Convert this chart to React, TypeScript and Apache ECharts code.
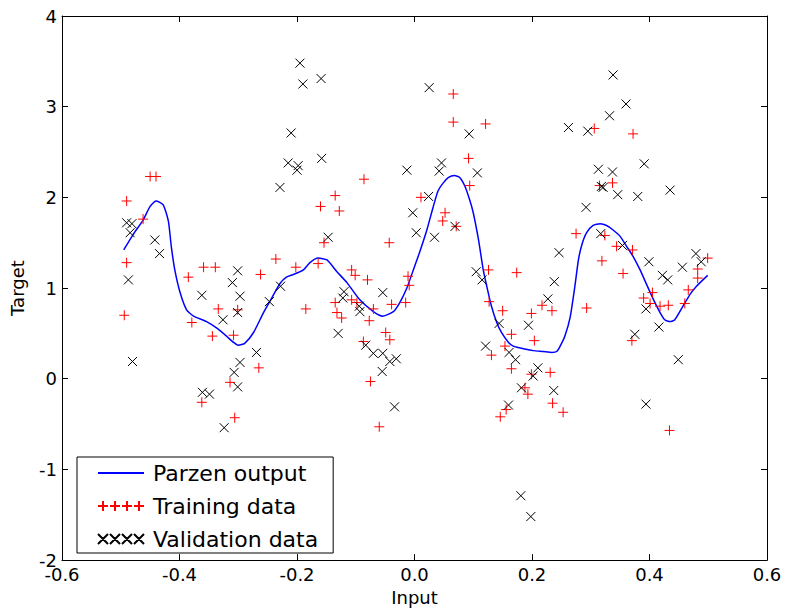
import React, { useEffect, useRef } from "react";
import * as echarts from "echarts";

const parzenX = [-0.495, -0.479, -0.462, -0.45, -0.44, -0.428, -0.419, -0.414, -0.408, -0.399, -0.388, -0.376, -0.354, -0.337, -0.32, -0.308, -0.3, -0.289, -0.274, -0.257, -0.243, -0.229, -0.218, -0.206, -0.189, -0.178, -0.164, -0.149, -0.132, -0.115, -0.093, -0.07, -0.054, -0.036, -0.025, -0.013, -0.002, 0.009, 0.021, 0.032, 0.04, 0.049, 0.058, 0.068, 0.077, 0.086, 0.094, 0.1, 0.109, 0.117, 0.123, 0.131, 0.14, 0.148, 0.16, 0.168, 0.18, 0.202, 0.219, 0.234, 0.242, 0.248, 0.256, 0.265, 0.273, 0.279, 0.285, 0.293, 0.304, 0.316, 0.327, 0.338, 0.35, 0.361, 0.372, 0.384, 0.395, 0.407, 0.418, 0.426, 0.435, 0.443, 0.457, 0.469, 0.48, 0.499];
const parzenY = [1.42, 1.59, 1.75, 1.9, 1.96, 1.92, 1.74, 1.46, 1.2, 0.95, 0.76, 0.69, 0.63, 0.56, 0.47, 0.4, 0.37, 0.39, 0.51, 0.73, 0.89, 1.05, 1.12, 1.15, 1.2, 1.28, 1.33, 1.31, 1.18, 1.06, 0.87, 0.74, 0.69, 0.74, 0.84, 1.0, 1.2, 1.4, 1.64, 1.9, 2.07, 2.16, 2.22, 2.24, 2.22, 2.12, 1.97, 1.83, 1.53, 1.2, 1.02, 0.8, 0.62, 0.51, 0.4, 0.36, 0.34, 0.31, 0.3, 0.29, 0.3, 0.36, 0.47, 0.68, 1.02, 1.31, 1.48, 1.61, 1.69, 1.71, 1.69, 1.64, 1.57, 1.46, 1.35, 1.2, 1.04, 0.87, 0.73, 0.65, 0.63, 0.65, 0.8, 0.93, 1.02, 1.14];

const trainX = [-0.45, -0.44, -0.49, -0.462, -0.49, -0.494, -0.236, -0.385, -0.359, -0.339, -0.262, -0.334, -0.301, -0.379, -0.344, -0.308, -0.265, -0.314, -0.362, -0.306,
  -0.086, -0.135, -0.16, -0.128, 0.011, -0.154, -0.043, -0.202, -0.164, -0.107, -0.101, -0.08, -0.011, -0.009, -0.185, -0.135, -0.132, -0.124, -0.107, -0.098, -0.07, -0.077, -0.039, -0.015, -0.049, -0.042, -0.087, -0.075, -0.06,
  0.066, 0.066, 0.121, 0.092, 0.094, 0.052, 0.048, 0.071, 0.275, 0.126, 0.174, 0.127, 0.15, 0.199, 0.217, 0.234, 0.165, 0.204, 0.154, 0.131, 0.165, 0.199, 0.231, 0.188, 0.193, 0.235, 0.253, 0.156, 0.146,
  0.306, 0.372, 0.315, 0.337, 0.324, 0.344, 0.371, 0.319, 0.355, 0.499, 0.482, 0.482, 0.466, 0.46, 0.39, 0.405, 0.401, 0.418, 0.432, 0.37, 0.293, 0.434];
const trainY = [2.23, 2.23, 1.96, 1.76, 1.28, 0.7, 1.32, 1.12, 1.23, 1.23, 1.15, 0.77, 0.76, 0.62, 0.47, 0.48, 0.12, -0.04, -0.26, -0.43,
  2.2, 2.02, 1.9, 1.85, 2.0, 1.5, 1.5, 1.23, 1.27, 1.2, 1.14, 1.09, 1.13, 1.03, 0.77, 0.84, 0.73, 0.67, 0.87, 0.84, 0.77, 0.64, 0.82, 0.84, 0.51, 0.43, 0.41, -0.03, -0.53,
  3.14, 2.83, 2.81, 2.43, 2.13, 1.83, 1.74, 1.68, 1.6, 1.2, 1.17, 0.85, 0.75, 0.72, 0.81, 0.75, 0.49, 0.42, 0.36, 0.26, 0.11, 0.05, 0.07, -0.1, -0.17, -0.27, -0.37, -0.34, -0.42,
  2.76, 2.7, 2.13, 2.16, 1.58, 1.46, 1.42, 1.3, 1.16, 1.33, 1.21, 1.11, 0.98, 0.83, 0.89, 0.95, 0.83, 0.8, 0.81, 0.42, 0.78, -0.57];

const validX = [-0.229, -0.49, -0.481, -0.484, -0.442, -0.434, -0.487, -0.48, -0.301, -0.31, -0.297, -0.362, -0.326, -0.301, -0.247, -0.269, -0.297, -0.307, -0.301, -0.361, -0.349, -0.324,
  -0.195, -0.19, -0.159, -0.21, -0.215, -0.198, -0.2, -0.158, 0.025, -0.013, 0.024, -0.003, 0.003, 0.034, -0.147, -0.228, -0.12, -0.122, -0.094, -0.093, -0.054, -0.13, -0.083, -0.07, -0.054, -0.042, -0.031, -0.055, -0.034,
  0.093, 0.262, 0.046, 0.042, 0.107, 0.069, 0.246, 0.105, 0.115, 0.238, 0.227, 0.144, 0.194, 0.121, 0.161, 0.172, 0.21, 0.202, 0.182, 0.237, 0.16, 0.181, 0.198,
  0.338, 0.36, 0.332, 0.295, 0.391, 0.313, 0.337, 0.318, 0.321, 0.346, 0.38, 0.435, 0.292, 0.317, 0.354, 0.399, 0.479, 0.488, 0.456, 0.422, 0.431, 0.394, 0.416, 0.375, 0.449, 0.394];
const validY = [2.11, 1.72, 1.71, 1.61, 1.53, 1.38, 1.09, 0.19, 1.19, 1.06, 0.91, 0.92, 0.65, 0.73, 0.85, 0.29, 0.18, 0.07, -0.09, -0.15, -0.17, -0.54,
  3.48, 3.25, 3.31, 2.71, 2.38, 2.35, 2.3, 2.43, 3.21, 2.3, 2.01, 1.83, 1.61, 1.56, 1.56, 1.02, 0.96, 0.89, 0.8, 0.74, 0.95, 0.5, 0.37, 0.28, 0.28, 0.19, 0.22, 0.08, -0.31,
  2.7, 2.77, 2.38, 2.29, 2.27, 1.68, 1.39, 1.18, 1.09, 1.07, 0.88, 0.61, 0.59, 0.36, 0.29, 0.21, 0.12, 0.03, -0.1, -0.13, -0.29, -1.29, -1.52,
  3.35, 3.03, 2.9, 2.73, 2.37, 2.31, 2.28, 2.12, 2.11, 2.03, 2.01, 2.08, 1.89, 1.6, 1.47, 1.29, 1.38, 1.29, 1.23, 1.14, 1.09, 0.77, 0.57, 0.49, 0.21, -0.28];

const FONT = "DejaVu Sans";
const PLUS = "path://M0,-5L0,5M-5,0L5,0";
const CROSS = "path://M-5,-5L5,5M-5,5L5,-5";
const LINE_ICON = "path://M0,0L36,0L36,1.6L0,1.6Z";
const PLUS4 = "path://M0,5L10,5M5,0L5,10M12,5L22,5M17,0L17,10M24,5L34,5M29,0L29,10M36,5L46,5M41,0L41,10";
const CROSS4 = "path://M0,0L10,10M0,10L10,0M12,0L22,10M12,10L22,0M24,0L34,10M24,10L34,0M36,0L46,10M36,10L46,0";

export default function App() {
  const ref = useRef<HTMLDivElement>(null);
  useEffect(() => {
    document.body.style.margin = "0";
    const chart = echarts.init(ref.current!, null, { renderer: "svg" });
    const zip = (xs: number[], ys: number[]) => xs.map((x, i) => [x, ys[i]]);
    const tickCommon = { inside: true, length: 6, lineStyle: { color: "#000", width: 1 } };
    const lineCommon = { show: true, onZero: false, lineStyle: { color: "#000", width: 1 } };
    chart.setOption({
      animation: false,
      backgroundColor: "#fff",
      textStyle: { fontFamily: FONT },
      grid: { left: 62, top: 16, right: 19, bottom: 50, containLabel: false },
      legend: {
        orient: "vertical",
        left: 77,
        top: 457,
        padding: [5, 15, 3, 20],
        borderColor: "#000",
        borderWidth: 1,
        itemGap: 11,
        itemWidth: 46,
        itemHeight: 10,
        textStyle: { fontSize: 22, fontFamily: FONT, color: "#000", padding: [0, 0, 0, 4] },
        data: [
          { name: "Parzen output", icon: LINE_ICON },
          { name: "Training data", icon: PLUS4 },
          { name: "Validation data", icon: CROSS4 },
        ],
      },
      xAxis: [
        {
          type: "value",
          min: -0.6,
          max: 0.6,
          interval: 0.2,
          name: "Input",
          nameLocation: "middle",
          nameGap: 27,
          nameTextStyle: { fontSize: 18, fontFamily: FONT, color: "#000" },
          axisLine: lineCommon,
          axisTick: tickCommon,
          splitLine: { show: false },
          axisLabel: {
            fontSize: 18,
            fontFamily: FONT,
            color: "#000",
            margin: 5,
            formatter: (v: number) => (Math.abs(v) < 1e-9 ? "0.0" : v.toFixed(1)),
          },
        },
        {
          type: "value",
          position: "top",
          min: -0.6,
          max: 0.6,
          interval: 0.2,
          axisLine: lineCommon,
          axisTick: tickCommon,
          axisLabel: { show: false },
          splitLine: { show: false },
        },
      ],
      yAxis: [
        {
          type: "value",
          min: -2,
          max: 4,
          interval: 1,
          name: "Target",
          nameLocation: "middle",
          nameGap: 36,
          nameTextStyle: { fontSize: 18, fontFamily: FONT, color: "#000" },
          axisLine: lineCommon,
          axisTick: tickCommon,
          splitLine: { show: false },
          axisLabel: { fontSize: 18, fontFamily: FONT, color: "#000", margin: 5 },
        },
        {
          type: "value",
          position: "right",
          min: -2,
          max: 4,
          interval: 1,
          axisLine: lineCommon,
          axisTick: tickCommon,
          axisLabel: { show: false },
          splitLine: { show: false },
        },
      ],
      series: [
        {
          name: "Parzen output",
          type: "line",
          data: zip(parzenX, parzenY),
          symbol: "none",
          smooth: 0.2,
          lineStyle: { color: "#0000ff", width: 1.5 },
          itemStyle: { color: "#0000ff" },
          z: 2,
        },
        {
          name: "Training data",
          type: "scatter",
          data: zip(trainX, trainY),
          symbol: PLUS,
          symbolSize: 10,
          itemStyle: { color: "#ff0000", borderColor: "#ff0000", borderWidth: 1, opacity: 1 },
          z: 3,
        },
        {
          name: "Validation data",
          type: "scatter",
          data: zip(validX, validY),
          symbol: CROSS,
          symbolSize: 9,
          itemStyle: { color: "#000", borderColor: "#000", borderWidth: 1, opacity: 1 },
          z: 4,
        },
      ],
    });
    return () => chart.dispose();
  }, []);
  return <div ref={ref} style={{ width: 786, height: 611 }} />;
}
